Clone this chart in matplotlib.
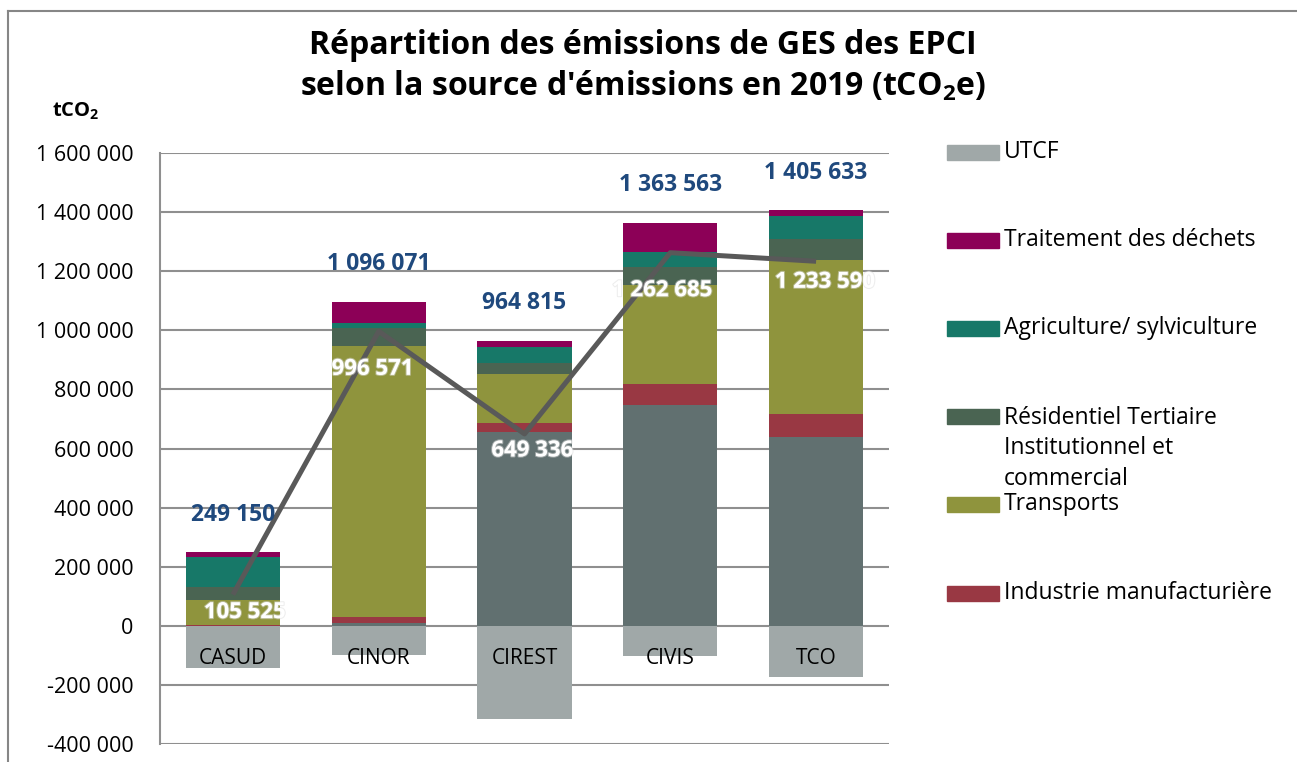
import matplotlib
matplotlib.use('Agg')
import matplotlib.pyplot as plt
import matplotlib.patheffects as pe
from matplotlib.patches import Rectangle
from matplotlib.lines import Line2D

plt.rcParams['font.family'] = ['Open Sans', 'DejaVu Sans']
plt.rcParams['mathtext.default'] = 'regular'

# data (tCO2e, 2019)
epci = ['CASUD', 'CINOR', 'CIREST', 'CIVIS', 'TCO']
energie = [0, 9000, 656000, 748000, 640000]
industrie = [2000, 22000, 29000, 69000, 77000]
transports = [84000, 915000, 166000, 336000, 522000]
residentiel = [45000, 63000, 38000, 62000, 71000]
agriculture = [101000, 17000, 55000, 50000, 78000]
dechets = [17150, 70071, 20815, 98563, 17633]
utcf = [-143625, -99500, -315479, -100878, -172043]
total_brut = [249150, 1096071, 964815, 1363563, 1405633]
total_net = [105525, 996571, 649336, 1262685, 1233590]

legend_labels = ['UTCF', 'Traitement des déchets', 'Agriculture/ sylviculture',
                 'Résidentiel Tertiaire\nInstitutionnel et\ncommercial',
                 'Transports', 'Industrie manufacturière']

col_energie = '#617070'
col_ind = '#993843'
col_trans = '#8f943d'
col_res = '#4a6452'
col_agri = '#177868'
col_dech = '#8c0057'
col_utcf = '#a0a8a8'

W, H = 1297, 762
fig = plt.figure(figsize=(W / 100, H / 100), dpi=100)

def fx(x):
    return x / W

def fy(y):
    return 1 - y / H

ax = fig.add_axes([fx(160), fy(744), fx(889) - fx(160), fy(153) - fy(744)])

x = list(range(len(epci)))
bw = 0.645
bottom = [0] * len(epci)
for vals, c in [(energie, col_energie), (industrie, col_ind), (transports, col_trans),
                (residentiel, col_res), (agriculture, col_agri), (dechets, col_dech)]:
    ax.bar(x, vals, bw, bottom=bottom, color=c, zorder=2)
    bottom = [b + v for b, v in zip(bottom, vals)]
ax.bar(x, utcf, bw, color=col_utcf, zorder=2)

ax.plot(x, total_net, color='#595959', lw=3.6, zorder=4, solid_capstyle='butt')

fmt = lambda v: f"{v:,}".replace(',', ' ')

for i, v in enumerate(total_brut):
    ax.annotate(fmt(v), (i, v), xytext=(0, 27), textcoords='offset points',
                ha='center', va='center', color='#1f497d', fontsize=16.5, fontweight='bold', zorder=5)

# net label offsets (px)
net_off = [(12, 18), (-6, 38), (8, 17), (-8, 38), (9, 21)]
glow = [pe.withStroke(linewidth=1.5, foreground='#dcdcdc', alpha=0.5)]
for i, v in enumerate(total_net):
    dx, dy = net_off[i]
    ax.annotate(fmt(v), (i, v), xytext=(dx * 0.72, -dy * 0.72), textcoords='offset points',
                ha='center', va='center', color='white', fontsize=16, fontweight='bold',
                zorder=5, path_effects=glow)

for i, name in enumerate(epci):
    ax.annotate(name, (i, 0), xytext=(0, -33 * 0.72), textcoords='offset points',
                ha='center', va='center', color='black', fontsize=15, zorder=5)

ax.set_xlim(-0.5, 4.5)
ax.set_ylim(-400000, 1600000)
yt = list(range(-400000, 1600001, 200000))
ax.set_yticks(yt)
ax.set_yticklabels([fmt(v) for v in yt], fontsize=15.5)
ax.tick_params(axis='y', length=0, pad=19)
ax.set_xticks([])
ax.yaxis.grid(True, color='#8f8f8f', lw=1.5, zorder=0)
ax.set_axisbelow(True)
for s in ['top', 'right', 'bottom']:
    ax.spines[s].set_visible(False)
ax.spines['left'].set_color('#8f8f8f')
ax.spines['left'].set_linewidth(1.5)

# title and unit
fig.text(fx(643), fy(46), 'Répartition des émissions de GES des EPCI', ha='center', va='center',
         fontsize=23, fontweight='bold')
fig.text(fx(643), fy(86), "selon la source d'émissions en 2019 (tCO$_2$e)", ha='center', va='center',
         fontsize=23, fontweight='bold')
fig.text(fx(52), fy(111), 'tCO$_2$', ha='left', va='center', fontsize=14.5, fontweight='bold')

# legend
leg_cols = [col_utcf, col_dech, col_agri, col_res, col_trans, col_ind]
leg_y = [152, 240, 328, 416, 504, 593]
for lab, c, y in zip(legend_labels, leg_cols, leg_y):
    fig.add_artist(Rectangle((fx(947), fy(y + 7.5)), fx(52), 15 / H, color=c,
                             transform=fig.transFigure))
    if '\n' in lab:
        fig.text(fx(1004), fy(y - 10), lab, ha='left', va='top', fontsize=16.5, linespacing=1.36)
    else:
        fig.text(fx(1004), fy(y), lab, ha='left', va='center', fontsize=16.5)

# chart frame
fig.add_artist(Line2D([fx(8), fx(8)], [fy(11), 0], color='#868686', lw=1.5))
fig.add_artist(Line2D([fx(8), 1], [fy(11), fy(11)], color='#868686', lw=1.5))

fig.savefig('out.png', dpi=100)
